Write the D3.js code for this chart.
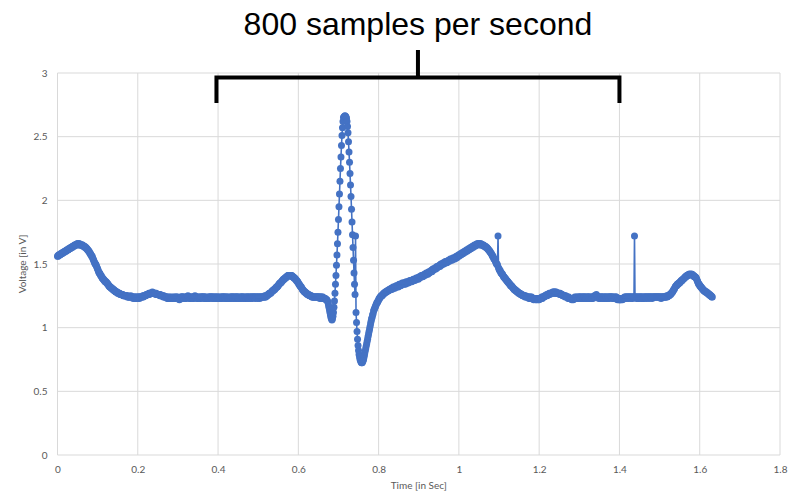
<!DOCTYPE html>
<html>
<head>
<meta charset="utf-8">
<script src="https://cdn.jsdelivr.net/npm/d3@7"></script>
<style>
  body { margin: 0; background: #fff; }
  svg { display: block; }
  .tick text { fill: #595959; font-family: Lato, "Liberation Sans", sans-serif; font-size: 10px; }
</style>
</head>
<body>
<svg id="chart" width="792" height="492"></svg>
<script>
// samples per second of the recording
var sampleRate = 800;

// voltage readings, one per sample (1/800 s)
var tWaveTail = [
  1.56,1.56,1.57,1.57,1.57,1.57,1.58,1.58, 1.58,1.58,1.59,1.59,1.59,1.59,1.60,1.60,
  1.60,1.60,1.61,1.61,1.61,1.61,1.62,1.62, 1.62,1.62,1.63,1.63,1.63,1.63,1.64,1.64,
  1.64,1.64,1.65,1.65,1.65,1.65,1.65,1.66, 1.66,1.66,1.65,1.66,1.66,1.65,1.65,1.65,
  1.65,1.65,1.65,1.64,1.64,1.64,1.64,1.63, 1.63,1.63,1.62,1.62,1.61,1.61,1.60,1.60,
  1.59,1.58,1.58,1.57,1.56,1.56,1.55,1.54, 1.53,1.52,1.51,1.50,1.50,1.49,1.48,1.47,
  1.46,1.45,1.44,1.43,1.43,1.42,1.41,1.41, 1.40,1.39,1.39,1.38,1.38,1.37,1.37,1.36,
  1.36,1.36,1.35,1.35,1.34,1.34,1.33,1.33, 1.32,1.32,1.32,1.31,1.31,1.31,1.30,1.30,
  1.30,1.29,1.29,1.29,1.28,1.28,1.28,1.28, 1.27,1.27,1.27,1.27,1.27,1.26,1.26,1.26,
  1.26,1.26,1.26,1.25,1.25,1.25,1.25,1.25, 1.25,1.25,1.25,1.24,1.25,1.24,1.24,1.24,
  1.24,1.24,1.25,1.24,1.24,1.24,1.24,1.23, 1.24,1.24,1.23,1.24,1.23,1.24,1.23,1.24
];
var baseline1 = [
  1.23,1.24,1.24,1.23,1.24,1.24,1.24,1.24, 1.24,1.24,1.25,1.24,1.25,1.25,1.25,1.25,
  1.25,1.26,1.26,1.26,1.26,1.26,1.27,1.26, 1.27,1.27,1.27,1.27,1.27,1.28,1.27,1.27,
  1.27,1.27,1.27,1.27,1.26,1.27,1.26,1.26, 1.26,1.26,1.26,1.26,1.25,1.26,1.25,1.25,
  1.25,1.25,1.25,1.24,1.25,1.24,1.24,1.24, 1.24,1.24,1.24,1.23,1.24,1.23,1.23,1.24,
  1.23,1.23,1.24,1.23,1.23,1.23,1.24,1.23, 1.23,1.24,1.23,1.23,1.24,1.24,1.23,1.23,
  1.24,1.23,1.23,1.22,1.23,1.23,1.24,1.24, 1.24,1.24,1.23,1.24,1.24,1.23,1.23,1.24,
  1.23,1.24,1.24,1.24,1.25,1.24,1.24,1.23, 1.24,1.23,1.23,1.24,1.24,1.24,1.23,1.23,
  1.24,1.24,1.25,1.24,1.24,1.24,1.23,1.24, 1.23,1.23,1.24,1.24,1.23,1.23,1.24,1.24,
  1.24,1.24,1.24,1.23,1.24,1.24,1.24,1.23, 1.23,1.24,1.23,1.23,1.23,1.24,1.24,1.23,
  1.24,1.24,1.24,1.24,1.23,1.24,1.24,1.24, 1.23,1.23,1.24,1.24,1.24,1.23,1.23,1.24,
  1.24,1.23,1.24,1.23,1.23,1.24,1.23,1.24, 1.24,1.24,1.23,1.24,1.24,1.24,1.24,1.23,
  1.23,1.24,1.24,1.23,1.24,1.23,1.23,1.23, 1.24,1.24,1.23,1.24,1.24,1.24,1.23,1.24,
  1.24,1.23,1.24,1.24,1.23,1.24,1.24,1.24, 1.23,1.24,1.23,1.23,1.24,1.24,1.23,1.24,
  1.24,1.24,1.24,1.23,1.23,1.24,1.24,1.23, 1.23,1.24,1.24,1.24,1.23,1.24,1.23,1.24,
  1.24,1.23,1.24,1.24,1.24,1.23,1.24,1.24, 1.24,1.24,1.23,1.24,1.24,1.24,1.24,1.23,
  1.24,1.24,1.24,1.23,1.24,1.24,1.24,1.24, 1.24,1.24,1.24,1.24,1.24,1.25,1.24,1.24
];
var pWave1 = [
  1.25,1.25,1.25,1.26,1.26,1.26,1.27,1.27, 1.27,1.27,1.28,1.28,1.29,1.29,1.29,1.30,
  1.30,1.30,1.31,1.31,1.32,1.32,1.32,1.33, 1.33,1.34,1.34,1.35,1.35,1.35,1.36,1.36,
  1.37,1.37,1.38,1.38,1.38,1.39,1.39,1.39, 1.40,1.40,1.40,1.41,1.41,1.41,1.41,1.41,
  1.41,1.41,1.41,1.41,1.40,1.40,1.40,1.39, 1.39,1.39,1.38,1.38,1.37,1.37,1.36,1.36,
  1.35,1.34,1.34,1.33,1.33,1.32,1.32,1.31, 1.30,1.30,1.29,1.29,1.28,1.28,1.28,1.27,
  1.27,1.27,1.26,1.26,1.26,1.26,1.25,1.25, 1.25,1.25,1.25,1.24,1.24,1.24,1.24,1.24,
  1.24,1.24,1.24,1.24,1.24,1.24,1.24,1.24, 1.24,1.24,1.24,1.23,1.24,1.24,1.23,1.24,
  1.23,1.24,1.23,1.23,1.23,1.23,1.23,1.22
];
var qrsComplex = [
  1.22,1.22,1.21,1.20,1.18,1.16,1.14,1.12, 1.10,1.08,1.07,1.06,1.07,1.09,1.12,1.16,
  1.21,1.27,1.34,1.41,1.49,1.57,1.66,1.75, 1.85,1.95,2.05,2.15,2.25,2.34,2.43,2.51,
  2.57,2.62,2.65,2.655,2.66,2.665,2.66,2.655, 2.645,2.62,2.58,2.53,2.46,2.38,2.30,2.21,
  2.12,2.03,1.93,1.83,1.73,1.63,1.53,1.43, 1.34,1.26,1.72,1.12,1.04,0.97,0.91,0.86,
  0.82,0.79,0.77,0.75,0.74,0.73,0.725,0.725, 0.73,0.74,0.75,0.77,0.79,0.81,0.83,0.85,
  0.87,0.89,0.91,0.93,0.95,0.97,0.99,1.01, 1.03,1.05,1.07,1.08,1.10,1.11,1.13,1.14,
  1.15,1.16,1.17,1.18,1.19,1.20,1.20,1.21
];
var stTWave = [
  1.22,1.23,1.23,1.24,1.24,1.25,1.25,1.25, 1.26,1.26,1.27,1.27,1.27,1.28,1.28,1.28,
  1.28,1.29,1.29,1.29,1.29,1.30,1.30,1.30, 1.30,1.31,1.30,1.31,1.31,1.32,1.31,1.32,
  1.31,1.32,1.32,1.33,1.32,1.33,1.33,1.32, 1.33,1.34,1.33,1.34,1.33,1.34,1.34,1.35,
  1.34,1.35,1.34,1.35,1.35,1.34,1.35,1.36, 1.35,1.35,1.36,1.35,1.36,1.36,1.37,1.36,
  1.36,1.37,1.36,1.37,1.37,1.38,1.37,1.38, 1.37,1.38,1.38,1.39,1.38,1.39,1.39,1.38,
  1.39,1.40,1.39,1.40,1.40,1.41,1.40,1.41, 1.40,1.41,1.41,1.42,1.41,1.42,1.42,1.43,
  1.42,1.43,1.42,1.43,1.44,1.43,1.44,1.44, 1.44,1.45,1.44,1.45,1.46,1.45,1.46,1.46,
  1.46,1.47,1.46,1.47,1.48,1.47,1.48,1.48, 1.48,1.49,1.48,1.49,1.50,1.49,1.50,1.50,
  1.50,1.51,1.50,1.51,1.51,1.52,1.51,1.52, 1.51,1.52,1.52,1.53,1.52,1.53,1.53,1.54,
  1.53,1.54,1.53,1.54,1.54,1.55,1.54,1.55, 1.54,1.55,1.55,1.56,1.55,1.56,1.56,1.57,
  1.56,1.57,1.57,1.58,1.57,1.58,1.58,1.59, 1.58,1.59,1.59,1.60,1.59,1.60,1.60,1.61,
  1.60,1.61,1.61,1.62,1.61,1.62,1.62,1.63, 1.62,1.63,1.63,1.64,1.63,1.64,1.64,1.65,
  1.64,1.65,1.65,1.65,1.66,1.65,1.66,1.66, 1.66,1.66,1.65,1.66,1.66,1.65,1.65,1.65,
  1.65,1.65,1.64,1.64,1.64,1.64,1.63,1.63, 1.63,1.62,1.62,1.61,1.61,1.60,1.60,1.59,
  1.585,1.58,1.57,1.56,1.56,1.55,1.54,1.54, 1.53,1.52,1.51,1.50,1.50,1.49,1.72,1.47,
  1.46,1.45,1.45,1.44,1.43,1.43,1.42,1.42, 1.41,1.40,1.40,1.39,1.39,1.38,1.38,1.37,
  1.37,1.36,1.36,1.35,1.35,1.34,1.34,1.33, 1.33,1.33,1.32,1.32,1.31,1.31,1.30,1.30,
  1.30,1.29,1.29,1.29,1.28,1.28,1.28,1.27, 1.27,1.27,1.27,1.26,1.26,1.26,1.26,1.25,
  1.25,1.25,1.25,1.25,1.24,1.25,1.24,1.24, 1.24,1.24,1.24,1.24,1.23,1.24,1.23,1.24,
  1.23,1.24,1.23,1.23,1.23,1.22,1.23,1.23, 1.23,1.22,1.23,1.22,1.23,1.23,1.22,1.23
];
var baseline2 = [
  1.22,1.23,1.23,1.23,1.23,1.24,1.23,1.24, 1.24,1.24,1.24,1.25,1.25,1.25,1.25,1.26,
  1.25,1.26,1.26,1.26,1.27,1.26,1.27,1.27, 1.27,1.27,1.27,1.28,1.27,1.28,1.28,1.27,
  1.28,1.27,1.28,1.27,1.27,1.27,1.27,1.27, 1.27,1.26,1.27,1.26,1.26,1.26,1.26,1.25,
  1.25,1.25,1.25,1.25,1.24,1.25,1.24,1.24, 1.24,1.24,1.23,1.24,1.23,1.23,1.23,1.23,
  1.23,1.22,1.23,1.23,1.22,1.23,1.23,1.24, 1.23,1.23,1.24,1.23,1.24,1.23,1.23,1.24,
  1.24,1.24,1.23,1.24,1.24,1.23,1.24,1.24, 1.23,1.24,1.24,1.24,1.23,1.24,1.23,1.24,
  1.24,1.23,1.24,1.24,1.24,1.23,1.24,1.23, 1.23,1.24,1.24,1.23,1.24,1.24,1.25,1.24,
  1.25,1.25,1.26,1.25,1.24,1.24,1.24,1.23, 1.24,1.24,1.23,1.24,1.24,1.24,1.23,1.24,
  1.24,1.23,1.24,1.23,1.24,1.24,1.24,1.23, 1.23,1.24,1.24,1.24,1.23,1.24,1.24,1.24,
  1.24,1.24,1.23,1.24,1.24,1.23,1.23,1.24, 1.23,1.24,1.24,1.23,1.22,1.23,1.23,1.22,
  1.22,1.23,1.22,1.22,1.23,1.23,1.22,1.23, 1.23,1.23,1.24,1.23,1.24,1.24,1.23,1.24,
  1.24,1.24,1.23,1.24,1.24,1.24,1.24,1.23, 1.24,1.24,1.23,1.24,1.24,1.24,1.72,1.24,
  1.24,1.24,1.23,1.24,1.24,1.23,1.24,1.24, 1.23,1.24,1.24,1.24,1.23,1.24,1.24,1.23,
  1.24,1.23,1.24,1.24,1.24,1.24,1.23,1.24, 1.24,1.24,1.24,1.23,1.24,1.24,1.24,1.24,
  1.24,1.23,1.24,1.24,1.24,1.24,1.24,1.24, 1.24,1.24,1.24,1.24,1.24,1.24,1.24,1.24
];
var pWave2 = [
  1.24,1.24,1.24,1.23,1.24,1.24,1.24,1.24, 1.24,1.24,1.24,1.24,1.24,1.24,1.25,1.24,
  1.245,1.25,1.25,1.25,1.26,1.26,1.26,1.27, 1.27,1.28,1.28,1.29,1.30,1.30,1.31,1.32,
  1.325,1.33,1.33,1.34,1.34,1.34,1.35,1.35, 1.35,1.36,1.36,1.37,1.37,1.37,1.38,1.38,
  1.385,1.39,1.39,1.40,1.40,1.40,1.41,1.41, 1.41,1.41,1.42,1.42,1.42,1.42,1.42,1.42,
  1.42,1.42,1.41,1.41,1.41,1.40,1.40,1.40, 1.395,1.39,1.38,1.37,1.36,1.35,1.34,1.34,
  1.33,1.33,1.32,1.32,1.31,1.31,1.30,1.30, 1.29,1.29,1.29,1.28,1.28,1.28,1.28,1.27,
  1.27,1.27,1.26,1.26,1.26,1.25,1.25,1.25, 1.24,1.24
];

// axis ticks
var xTicks = [0, 0.2, 0.4, 0.6, 0.8, 1, 1.2, 1.4, 1.6, 1.8];
var yTicks = [0, 0.5, 1, 1.5, 2, 2.5, 3];

// bracket spans this stretch of time (seconds)
var bracketFrom = 0.396, bracketTo = 1.4;

var voltages = [].concat(tWaveTail, baseline1, pWave1, qrsComplex, stTWave, baseline2, pWave2);
var samples = voltages.map(function(v, i) { return { t: i / sampleRate, v: v }; });

var svg = d3.select("#chart");
var blue = "#4472C4";
var grid = "#d9d9d9";

var x = d3.scaleLinear().domain([0, 1.8]).range([57.5, 780]);
var y = d3.scaleLinear().domain([0, 3]).range([455, 73]);

// gridlines
svg.append("g").selectAll("line")
    .data(xTicks)
    .enter().append("line")
    .attr("x1", function(d) { return x(d); })
    .attr("x2", function(d) { return x(d); })
    .attr("y1", y(0))
    .attr("y2", y(3))
    .attr("stroke", grid);

svg.append("g").selectAll("line")
    .data(yTicks)
    .enter().append("line")
    .attr("x1", x(0))
    .attr("x2", x(1.8))
    .attr("y1", function(d) { return y(d); })
    .attr("y2", function(d) { return y(d); })
    .attr("stroke", grid);

// tick labels
svg.append("g")
    .attr("transform", "translate(0," + y(0) + ")")
    .call(d3.axisBottom(x).tickValues(xTicks).tickSize(0).tickPadding(11).tickFormat(d3.format("")))
    .call(function(g) { g.select(".domain").remove(); });

svg.append("g")
    .attr("transform", "translate(" + x(0) + ",0)")
    .call(d3.axisLeft(y).tickValues(yTicks).tickSize(0).tickPadding(10).tickFormat(d3.format("")))
    .call(function(g) { g.select(".domain").remove(); });

// axis titles
svg.append("text")
    .attr("x", (x(0) + x(1.8)) / 2)
    .attr("y", 489)
    .attr("text-anchor", "middle")
    .style("font-family", "Lato, 'Liberation Sans', sans-serif")
    .style("font-size", "10px")
    .style("fill", "#595959")
    .text("Time [in Sec]");

svg.append("text")
    .attr("text-anchor", "middle")
    .attr("transform", "translate(26," + ((y(0) + y(3)) / 2) + ")rotate(-90)")
    .style("font-family", "Lato, 'Liberation Sans', sans-serif")
    .style("font-size", "10px")
    .style("fill", "#595959")
    .text("Voltage [in V]");

// the trace: line plus a marker on every sample
var line = d3.line()
    .x(function(d) { return x(d.t); })
    .y(function(d) { return y(d.v); });

svg.append("path")
    .datum(samples)
    .attr("d", line)
    .attr("fill", "none")
    .attr("stroke", blue)
    .attr("stroke-width", 1.6);

svg.append("g").selectAll("circle")
    .data(samples)
    .enter().append("circle")
    .attr("cx", function(d) { return x(d.t); })
    .attr("cy", function(d) { return y(d.v); })
    .attr("r", 3.5)
    .attr("fill", blue);

// bracket annotation
var midX = (x(bracketFrom) + x(bracketTo)) / 2;
svg.append("path")
    .attr("d", "M" + x(bracketFrom) + ",103V77.5H" + x(bracketTo) + "V103M" + midX + ",77.5V50")
    .attr("fill", "none")
    .attr("stroke", "#000")
    .attr("stroke-width", 4);

svg.append("text")
    .attr("x", midX)
    .attr("y", 35)
    .attr("text-anchor", "middle")
    .style("font-family", "'Liberation Sans', Arial, sans-serif")
    .style("font-size", "32px")
    .style("fill", "#000")
    .text("800 samples per second");
</script>
</body>
</html>
